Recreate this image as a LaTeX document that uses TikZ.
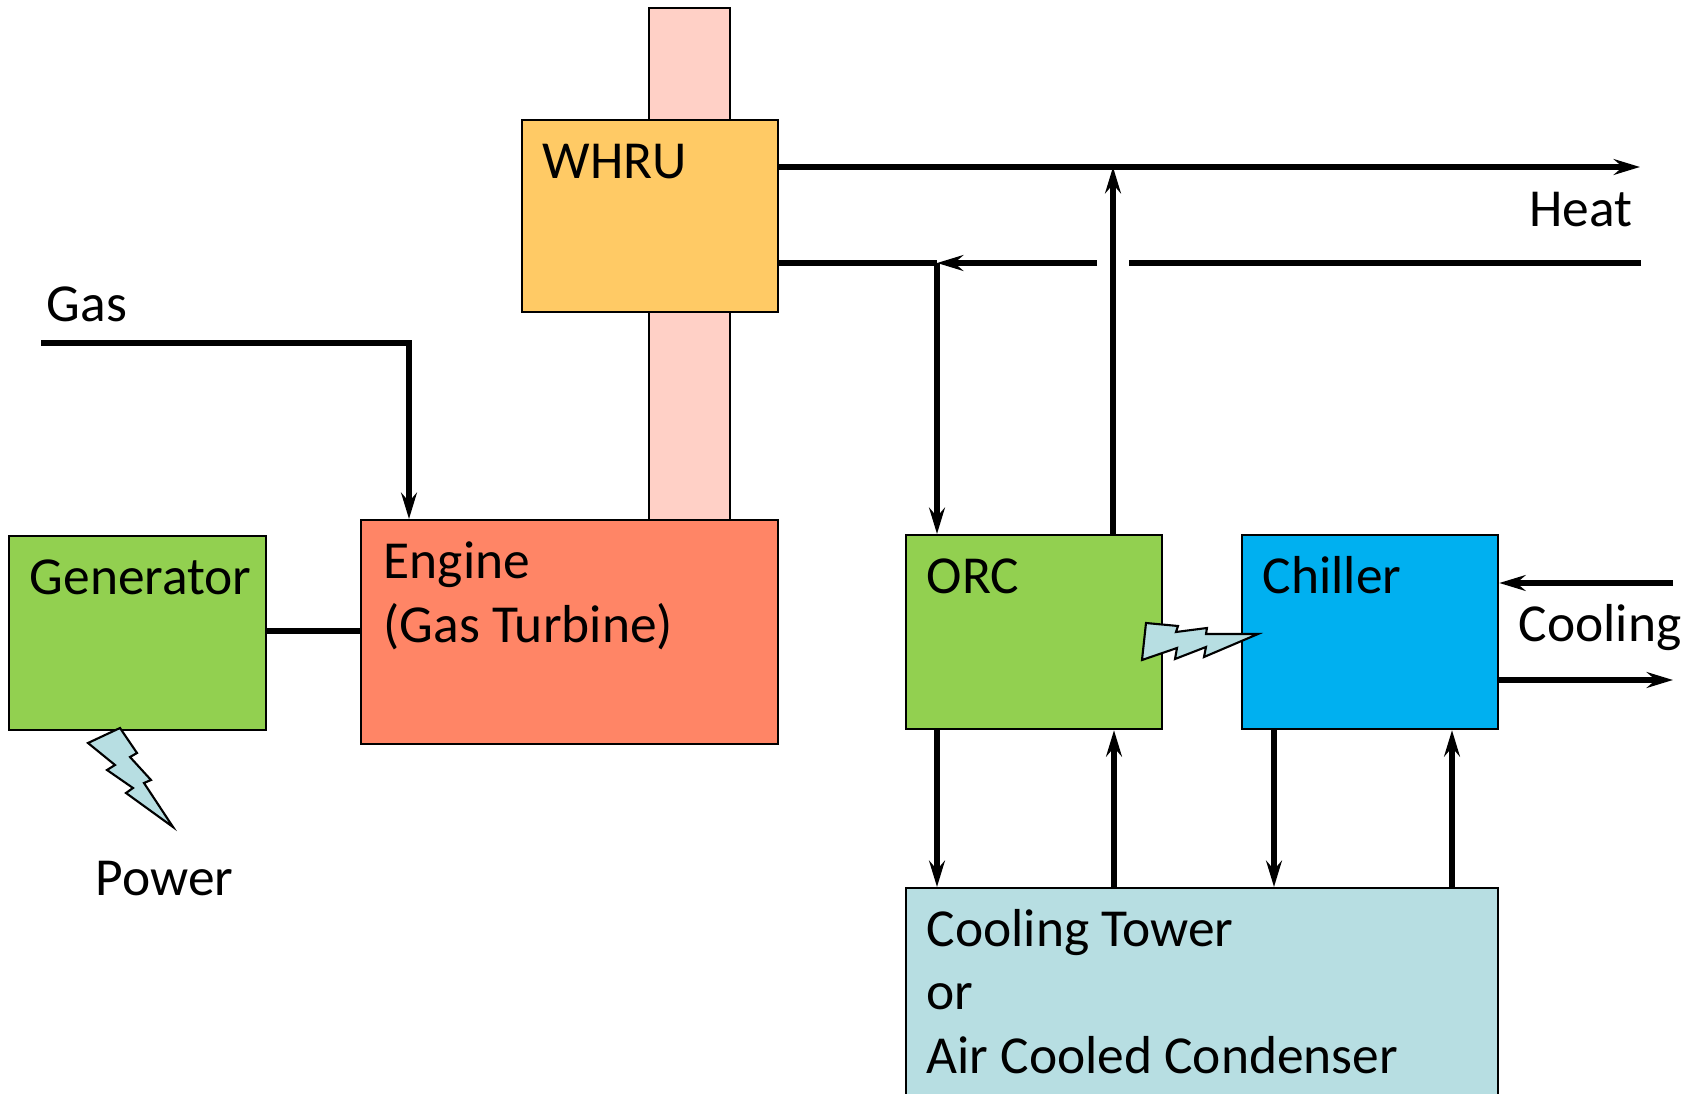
\documentclass[tikz,border=0pt]{standalone}
\usepackage{fontspec}
\setmainfont{Carlito}
\usetikzlibrary{positioning,arrows.meta}

\definecolor{stackpink}{RGB}{255,208,198}
\definecolor{whruyellow}{RGB}{255,202,101}
\definecolor{enginered}{RGB}{255,133,102}
\definecolor{unitgreen}{RGB}{146,208,80}
\definecolor{chillerblue}{RGB}{0,176,240}
\definecolor{towerblue}{RGB}{183,222,226}

\tikzset{
  unit/.style={draw=black, line width=0.6pt, rectangle, inner sep=0pt, anchor=north west},
  lbl/.style={anchor=base west, inner sep=0pt, align=left, font=\fontsize{15.2}{18}\selectfont},
  pipe/.style={line width=1.5pt},
  flow/.style={pipe, -{Stealth[length=7.5pt,width=4.5pt,inset=2.6pt]}},
  bolt/.style={draw=black, line width=0.6pt, fill=towerblue, line join=miter},
}

\begin{document}
\begin{tikzpicture}[x=0.01cm, y=-0.01cm]
\useasboundingbox (0,0) rectangle (1693,1094);

\node[unit, fill=stackpink, minimum width=0.81cm, minimum height=5.12cm] (stack) at (648,7) {};
\node[unit, fill=whruyellow, minimum width=2.56cm, minimum height=1.92cm] (whru) at (521,119) {};
\node[unit, fill=enginered, minimum width=4.17cm, minimum height=2.24cm] (engine) at (360,519) {};
\node[unit, fill=unitgreen, minimum width=2.57cm, minimum height=1.94cm] (gen) at (8,535) {};
\node[unit, fill=unitgreen, minimum width=2.56cm, minimum height=1.94cm] (orc) at (905,534) {};
\node[unit, fill=chillerblue, minimum width=2.56cm, minimum height=1.94cm] (chiller) at (1241,534) {};
\node[unit, fill=towerblue, minimum width=5.92cm, minimum height=2.2cm] (tower) at (905,887) {};

% multi-line labels sit on their last baseline
\node[lbl] (whrutxt) at ([shift={(0.21cm,-0.59cm)}]whru.north west) {WHRU};
\node[lbl] (enginetxt) at ([shift={(0.23cm,-1.23cm)}]engine.north west) {Engine\\(Gas Turbine)};
\node[lbl] (gentxt) at ([shift={(0.21cm,-0.59cm)}]gen.north west) {Generator};
\node[lbl] (orctxt) at ([shift={(0.21cm,-0.59cm)}]orc.north west) {ORC};
\node[lbl] (chillertxt) at ([shift={(0.21cm,-0.59cm)}]chiller.north west) {Chiller};
\node[lbl] (towertxt) at ([shift={(0.21cm,-1.86cm)}]tower.north west) {Cooling Tower\\or\\Air Cooled Condenser};

\node[lbl] (gas) at (46,322) {Gas};
\node[lbl, anchor=base east] (heat) at (1633,227) {Heat};
\node[lbl] (cooling) at (1518,641) {Cooling};
\node[lbl] (power) at (95,895) {Power};

% heat loop
\coordinate (heatend) at (1640,167);
\coordinate (heatup) at (1113,167);
\coordinate (retend) at (1641,263);
\coordinate (gapR) at (1129,263);
\coordinate (gapL) at (1097,263);
\coordinate (tee) at (937,263);
\draw[flow] (whru.east |- heatend) -- (heatend);
\draw[flow] (heatup |- orc.north) -- (heatup);
\draw[pipe] (retend) -- (gapR);
\draw[flow] (gapL) -- (tee);
\draw[pipe] (tee) -- (whru.east |- tee);
\draw[flow] (tee) -- (tee |- orc.north);

% fuel and shaft
\coordinate (gasin) at (41,343);
\coordinate (gasbend) at (409,343);
\coordinate (shaft) at (300,631);
\draw[flow] (gasin) -- (gasbend) -- (gasbend |- engine.north);
\draw[pipe] (gen.east |- shaft) -- (engine.west |- shaft);

% chilled water
\coordinate (coolin) at (1673,583);
\coordinate (coolout) at (1673,680);
\draw[flow] (coolin) -- (chiller.east |- coolin);
\draw[flow] (chiller.east |- coolout) -- (coolout);

% condenser water
\foreach \src/\x in {orc/937, chiller/1274}
  \draw[flow] (\src.south -| \x,0) -- (tower.north -| \x,0);
\foreach \src/\x in {orc/1114, chiller/1452}
  \draw[flow] (tower.north -| \x,0) -- (\src.south -| \x,0);

% power bolts
\draw[bolt] (120,728) -- (137,753) -- (130,757) -- (151,780) -- (144,783) -- (173,827)
  -- (126,793) -- (133,788) -- (107,770) -- (115,765) -- (88,743) -- cycle;
\draw[bolt] (1146,623) -- (1178,626) -- (1176,632) -- (1207,628) -- (1206,634) -- (1258,634)
  -- (1204,657) -- (1206,647) -- (1175,659) -- (1177,648) -- (1142,660) -- cycle;
\end{tikzpicture}
\end{document}
